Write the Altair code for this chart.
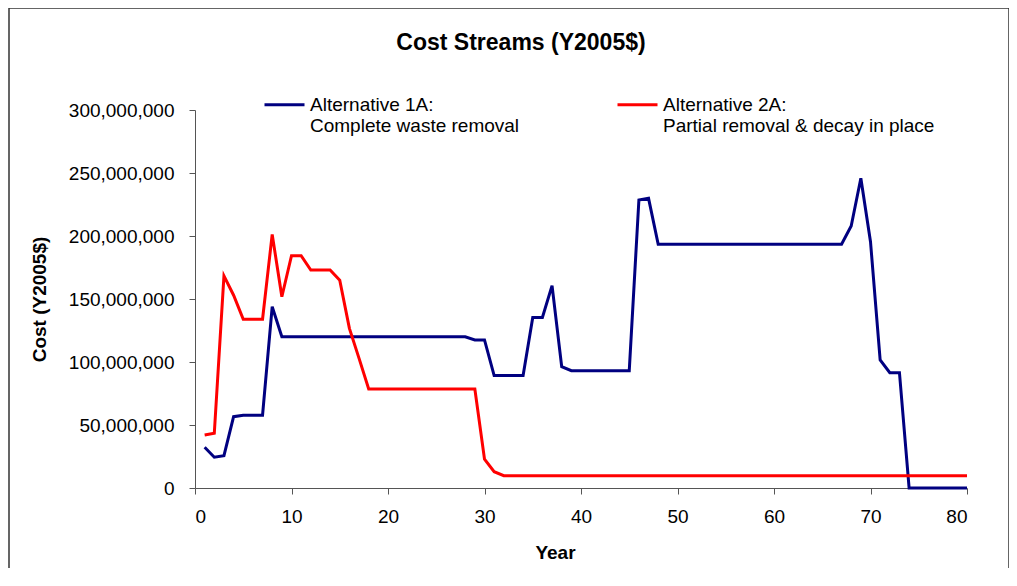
import altair as alt
import pandas as pd

years = list(range(1, 81))

# Costs in millions of Y2005 dollars
alt_1a = [32.3, 24.4, 25.7, 56.6, 57.8, 57.8, 57.8, 143.9, 120, 120,
          120, 120, 120, 120, 120, 120, 120, 120, 120, 120,
          120, 120, 120, 120, 120, 120, 120, 120, 117.5, 117.5,
          89.2, 89.2, 89.2, 89.2, 135.4, 135.4, 160.6, 96.3, 93.1, 93.1,
          93.1, 93.1, 93.1, 93.1, 93.1, 228.6, 229.9, 193.4, 193.4, 193.4,
          193.4, 193.4, 193.4, 193.4, 193.4, 193.4, 193.4, 193.4, 193.4, 193.4,
          193.4, 193.4, 193.4, 193.4, 193.4, 193.4, 193.4, 207.9, 245.8, 195.5,
          101.6, 91.5, 91.5, 0, 0, 0, 0, 0, 0, 0]

alt_2a = [42.0, 43.4, 168.3, 153.0, 133.9, 133.9, 133.9, 201.3, 151.8, 184.4,
          184.4, 173.0, 173.0, 173.0, 165.0, 126.7, 102.9, 78.6, 78.6, 78.6,
          78.6, 78.6, 78.6, 78.6, 78.6, 78.6, 78.6, 78.6, 78.6, 22.8,
          12.9, 9.8, 9.8, 9.8, 9.8, 9.8, 9.8, 9.8, 9.8, 9.8,
          9.8, 9.8, 9.8, 9.8, 9.8, 9.8, 9.8, 9.8, 9.8, 9.8,
          9.8, 9.8, 9.8, 9.8, 9.8, 9.8, 9.8, 9.8, 9.8, 9.8,
          9.8, 9.8, 9.8, 9.8, 9.8, 9.8, 9.8, 9.8, 9.8, 9.8,
          9.8, 9.8, 9.8, 9.8, 9.8, 9.8, 9.8, 9.8, 9.8, 9.8]

series_names = ["Alternative 1A:\nComplete waste removal",
                "Alternative 2A:\nPartial removal & decay in place"]
series_colors = ["#000080", "#FF0000"]

x_ticks = [0, 10, 20, 30, 40, 50, 60, 70, 80]
y_ticks = [0, 50e6, 100e6, 150e6, 200e6, 250e6, 300e6]

rows = []
for name, vals in zip(series_names, [alt_1a, alt_2a]):
    for yr, v in zip(years, vals):
        rows.append({"Year": yr, "Cost": v * 1e6, "Series": name})
df = pd.DataFrame(rows)

FONT = "Liberation Sans"

lines = alt.Chart(df).mark_line(strokeWidth=3, clip=False).encode(
    x=alt.X("Year:Q",
            scale=alt.Scale(domain=[0, 80], nice=False),
            axis=alt.Axis(values=x_ticks, title="Year", grid=False,
                          labelFontSize=19, titleFontSize=19,
                          titleFontWeight="bold", labelPadding=13,
                          tickSize=6, titlePadding=17, titleX=360)),
    y=alt.Y("Cost:Q",
            scale=alt.Scale(domain=[0, 300e6], nice=False),
            axis=alt.Axis(values=y_ticks, format=",d", title="Cost (Y2005$)",
                          grid=False, labelFontSize=19, titleFontSize=19,
                          titleFontWeight="bold", labelPadding=15,
                          tickSize=6, titlePadding=19)),
    color=alt.Color("Series:N",
                    scale=alt.Scale(domain=series_names, range=series_colors),
                    legend=alt.Legend(title=None, orient="none",
                                      legendX=68, legendY=-27,
                                      direction="horizontal", columns=2,
                                      symbolType="stroke", symbolSize=1600,
                                      symbolStrokeWidth=3, labelOffset=4,
                                      labelFontSize=19, labelLimit=500,
                                      labelExpr="split(datum.label, '\\n')",
                                      columnPadding=91, labelColor="#000")),
    order="Year:Q",
)

frame = alt.Chart(pd.DataFrame({"a": [0]})).mark_rect(
    fill=None, stroke="#333333", strokeWidth=1.5
).encode(
    x=alt.value(-186), x2=alt.value(814),
    y=alt.value(-102), y2=alt.value(520),
)

chart = alt.layer(frame, lines).properties(
    width=772, height=378,
    padding={"left": 187, "top": 102, "right": 42, "bottom": 80},
    autosize="none",
    title=alt.TitleParams("Cost Streams (Y2005$)", fontSize=23,
                          fontWeight="bold", anchor="middle", dx=-60,
                          offset=-48, font=FONT, color="#000"),
).configure(font=FONT).configure_axis(
    domainColor="#555", tickColor="#555", labelColor="#000",
    titleColor="#000", labelFont=FONT, titleFont=FONT
).configure_legend(labelFont=FONT).configure_view(stroke=None)

chart.save("out.html", embed_options={"renderer": "svg", "actions": False})
